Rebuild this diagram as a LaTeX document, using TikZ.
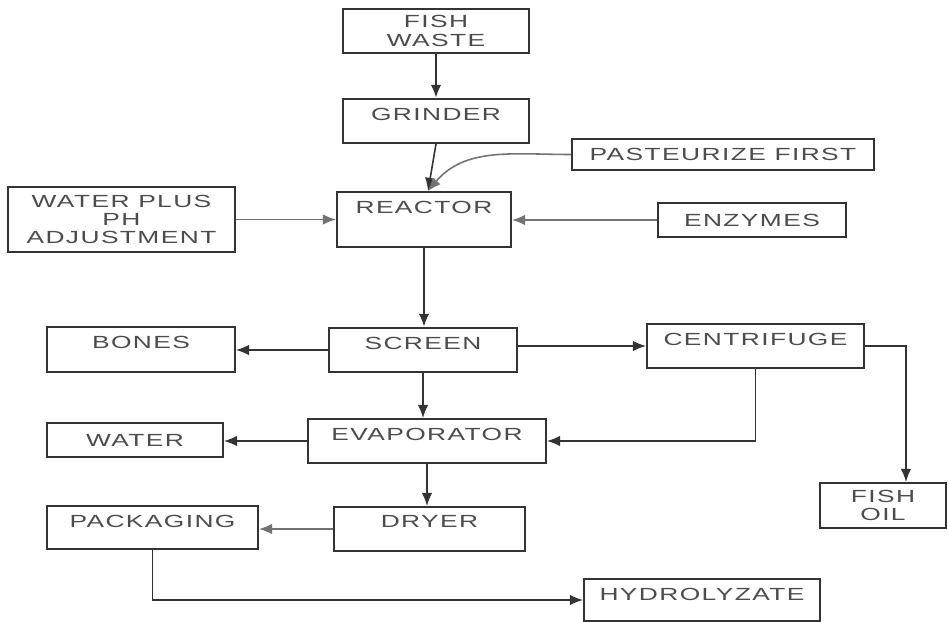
\documentclass[tikz,border=0pt]{standalone}
\usepackage{fontspec}
\newfontfamily\boxfont[FakeStretch=1.5,LetterSpace=8]{Liberation Sans}
\usetikzlibrary{arrows.meta}

\begin{document}
\begin{tikzpicture}[x=0.02cm, y=-0.02cm,
    box/.style={draw=black!80, line width=1.1pt, inner sep=0pt, align=center,
        text=black!70, font=\boxfont\fontsize{10}{10.5}\selectfont},
    toptext/.style={anchor=north, yshift=-0.19cm, inner sep=0pt, text=black!70,
        font=\boxfont\fontsize{10}{10.5}\selectfont},
    flow/.style={-{Latex[length=7.5pt,width=6pt]}, line width=0.9pt, draw=black!80},
    heavy/.style={flow, line width=1.5pt},
    light/.style={flow, draw=black!55}]
    \useasboundingbox (0,0) rectangle (948,622);
    \fill[white] (0,0) rectangle (948,622);

    % input side
    \node[box, minimum width=3.72cm, minimum height=0.88cm] (fish) at (436,31) {FISH\\WASTE};
    \node[box, minimum width=3.72cm, minimum height=0.88cm,
        label={[toptext]north:GRINDER}] (grinder) at (436,121) {};
    \node[box, minimum width=6.04cm, minimum height=0.62cm] (pasteur) at (723,154.5) {PASTEURIZE FIRST};
    \node[box, minimum width=3.48cm, minimum height=1.10cm,
        label={[toptext]north:REACTOR}] (reactor) at (424,219.5) {};
    \node[box, minimum width=4.54cm, minimum height=1.30cm] (waterplus) at (121.5,219.5) {WATER PLUS\\PH\\ADJUSTMENT};
    \node[box, minimum width=3.76cm, minimum height=0.68cm] (enzymes) at (752,220) {ENZYMES};

    % separation
    \node[box, minimum width=3.76cm, minimum height=0.90cm,
        label={[toptext]north:BONES}] (bones) at (141,349.5) {};
    \node[box, minimum width=3.76cm, minimum height=0.88cm,
        label={[toptext]north:SCREEN}] (screen) at (423,350) {};
    \node[box, minimum width=4.34cm, minimum height=0.88cm,
        label={[toptext]north:CENTRIFUGE}] (centrifuge) at (755.5,346) {};
    \node[box, minimum width=3.52cm, minimum height=0.68cm] (water) at (135,440) {WATER};
    \node[box, minimum width=4.76cm, minimum height=0.88cm,
        label={[toptext]north:EVAPORATOR}] (evaporator) at (427,441) {};
    \node[box, minimum width=2.52cm, minimum height=0.90cm] (fishoil) at (883,505.5) {FISH\\OIL};

    % product
    \node[box, minimum width=4.22cm, minimum height=0.86cm,
        label={[toptext]north:PACKAGING}] (packaging) at (152.5,527.5) {};
    \node[box, minimum width=3.82cm, minimum height=0.88cm,
        label={[toptext]north:DRYER}] (dryer) at (429.5,529) {};
    \node[box, minimum width=4.72cm, minimum height=0.84cm,
        label={[toptext]north:HYDROLYZATE}] (hydro) at (702,600) {};

    % feed lines
    \coordinate (rin) at ([xshift=0.08cm]reactor.north);
    \draw[heavy] (fish) -- (grinder);
    \draw[flow] (grinder.south) -- (rin);
    \draw[light] (pasteur.west) to[out=180, in=50] (rin);
    \draw[light] (waterplus.east) -- (reactor.west);
    \draw[light] (enzymes.west) -- (enzymes.west -| reactor.east);
    \draw[heavy] (reactor.south) -- (reactor.south |- screen.north);

    % split lines
    \draw[flow] (screen.west) -- (screen.west -| bones.east);
    \draw[flow] (screen.east |- centrifuge.west) -- (centrifuge.west);
    \draw[flow] (screen.south) -- (screen.south |- evaporator.north);
    \draw[flow] (centrifuge.south) |- (evaporator.east);
    \draw[flow] (centrifuge.east) -| ([xshift=0.46cm]fishoil.north);
    \draw[flow] (evaporator.west) -- (evaporator.west -| water.east);
    \draw[flow] (evaporator.south) -- (evaporator.south |- dryer.north);
    \draw[light] (dryer.west) -- (dryer.west -| packaging.east);
    \draw[flow] (packaging.south) |- (hydro.west);
\end{tikzpicture}
\end{document}
